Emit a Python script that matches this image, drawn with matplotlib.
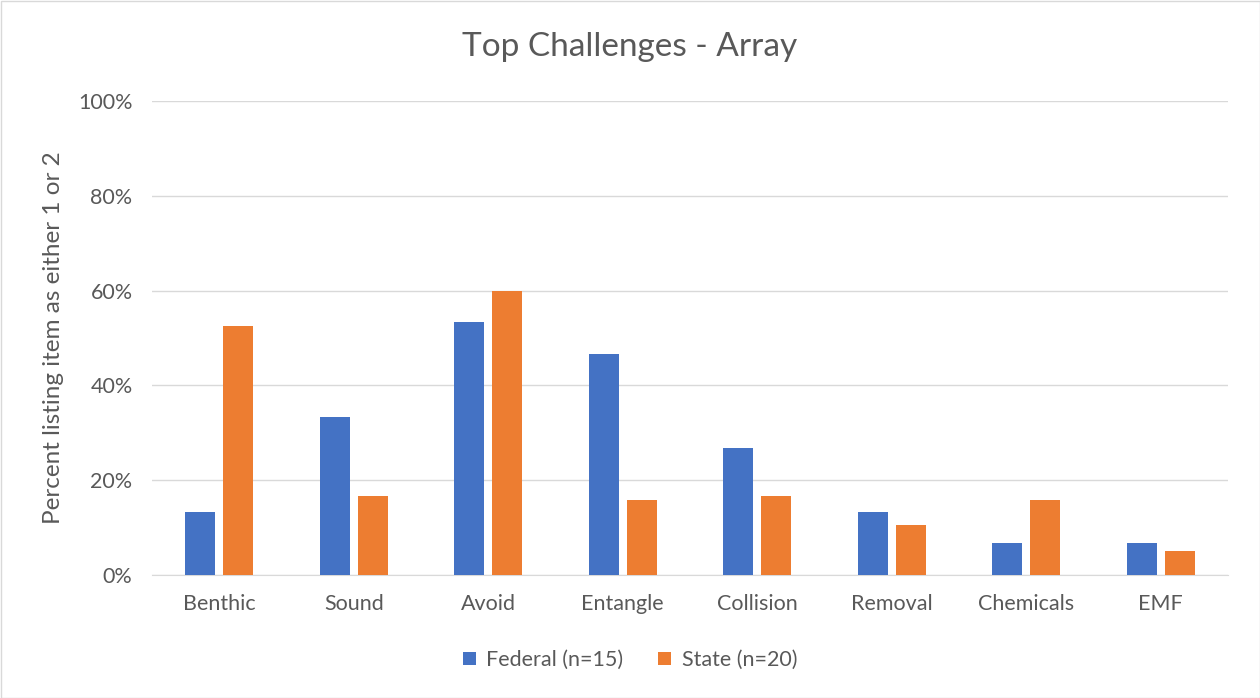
import numpy as np
import matplotlib.pyplot as plt
from matplotlib.ticker import PercentFormatter

plt.rcParams['font.family'] = ['Lato', 'DejaVu Sans']

categories = ['Benthic', 'Sound', 'Avoid', 'Entangle', 'Collision', 'Removal', 'Chemicals', 'EMF']
federal = [13.3, 33.3, 53.3, 46.7, 26.7, 13.3, 6.7, 6.7]
state = [52.6, 16.7, 60.0, 15.8, 16.7, 10.5, 15.8, 5.0]
series_names = ['Federal (n=15)', 'State (n=20)']

fig = plt.figure(figsize=(12.6, 6.98), dpi=100)
ax = fig.add_axes([152 / 1260, 1 - 575 / 698, (1228 - 152) / 1260, (575 - 101) / 698])

x = np.arange(len(categories))
w = 0.223
off = 0.141
ax.bar(x - off, federal, w, color='#4472C4', label=series_names[0], zorder=3)
ax.bar(x + off, state, w, color='#ED7D31', label=series_names[1], zorder=3)

ax.set_xlim(-0.5, len(categories) - 0.5)
ax.set_ylim(0, 100)
ax.set_yticks(range(0, 101, 20))
ax.yaxis.set_major_formatter(PercentFormatter(decimals=0))
ax.set_xticks(x)
ax.set_xticklabels(categories)
ax.grid(axis='y', color='#D9D9D9', linewidth=1, zorder=0)
for s in ['top', 'right', 'left']:
    ax.spines[s].set_visible(False)
ax.spines['bottom'].set_color('#D9D9D9')
ax.tick_params(axis='both', length=0, labelsize=15.5, colors='#595959')
ax.tick_params(axis='x', pad=14)
ax.tick_params(axis='y', pad=14)
ax.set_ylabel('Percent listing item as either 1 or 2', fontsize=17.5, color='#595959')
ax.yaxis.set_label_coords(-(152 - 64) / 1076, 0.5)

fig.suptitle('Top Challenges - Array', fontsize=24, color='#595959', y=1 - 47 / 698, va='center')

fig.legend(loc='center', bbox_to_anchor=(0.5, 1 - 660 / 698), ncol=2, frameon=False,
           fontsize=15.5, labelcolor='#595959', handlelength=0.6, handleheight=0.6,
           columnspacing=1.6, handletextpad=0.5)

fig.patches.append(plt.Rectangle((0.5 / 1260, 0.5 / 698), 1 - 1 / 1260, 1 - 1 / 698,
                                 transform=fig.transFigure, fill=False, edgecolor='#D9D9D9', linewidth=1))

fig.savefig('out.png', dpi=100)
